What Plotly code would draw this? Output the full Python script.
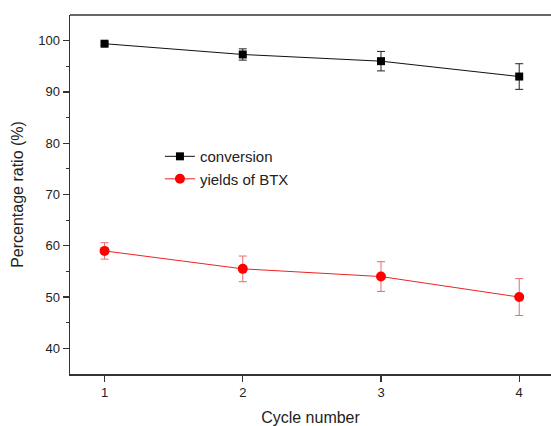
import plotly.graph_objects as go

cycles = [1, 2, 3, 4]
conversion = [99.4, 97.3, 96.0, 93.0]
conversion_err = [0.3, 1.1, 1.9, 2.5]
yields_btx = [59.0, 55.5, 54.0, 50.0]
yields_err = [1.6, 2.5, 2.9, 3.6]

fig = go.Figure()
fig.add_trace(go.Scatter(
    x=cycles, y=conversion, name="conversion", mode="lines+markers",
    line=dict(color="#111111", width=1),
    marker=dict(symbol="square", size=8, color="black"),
    error_y=dict(type="data", array=conversion_err, visible=True,
                 color="#222222", thickness=1, width=4),
))
fig.add_trace(go.Scatter(
    x=cycles, y=yields_btx, name="yields of BTX", mode="lines+markers",
    line=dict(color="#ee2222", width=1),
    marker=dict(symbol="circle", size=10, color="#ff0000"),
    error_y=dict(type="data", array=yields_err, visible=True,
                 color="#e86a6a", thickness=1, width=4),
))

font = "Arial, Liberation Sans, sans-serif"
fig.update_layout(
    width=551, height=426,
    margin=dict(l=70, r=0, t=15, b=52, autoexpand=False),
    paper_bgcolor="white", plot_bgcolor="white",
    font=dict(family=font, size=13, color="#222222"),
    showlegend=True,
    legend=dict(x=0.187, y=0.575, xanchor="left", yanchor="middle",
                bgcolor="rgba(0,0,0,0)", font=dict(size=15, color="#222222"),
                tracegroupgap=0),
    xaxis=dict(range=[0.75, 4.23], tickvals=cycles, ticktext=["1", "2", "3", "4"],
               showgrid=False, zeroline=False, showline=True, linecolor="#333333",
               linewidth=1.5, mirror=False, ticks="outside", ticklen=6, tickwidth=1.2,
               tickcolor="#333333", automargin=False,
               title=dict(text="Cycle number", font=dict(size=16), standoff=14)),
    yaxis=dict(range=[35, 105], tickvals=[40, 50, 60, 70, 80, 90, 100],
               showgrid=False, zeroline=False, showline=True, linecolor="#333333",
               linewidth=1.5, mirror=False, ticks="outside", ticklen=6, tickwidth=1.2,
               tickcolor="#333333", automargin=False,
               minor=dict(tickvals=[45, 55, 65, 75, 85, 95], ticks="outside",
                          ticklen=3, tickwidth=1.2, tickcolor="#333333", showgrid=False),
               title=dict(text="Percentage ratio (%)", font=dict(size=16), standoff=10)),
    shapes=[dict(type="line", xref="paper", yref="paper", x0=0, x1=1, y0=1, y1=1,
                 line=dict(color="#333333", width=1.5))],
)

fig.write_html("out.html", config={"staticPlot": True, "displayModeBar": False},
               post_script="document.body.style.margin='0';document.body.style.overflow='hidden';"
                           "document.documentElement.style.overflow='hidden';")
